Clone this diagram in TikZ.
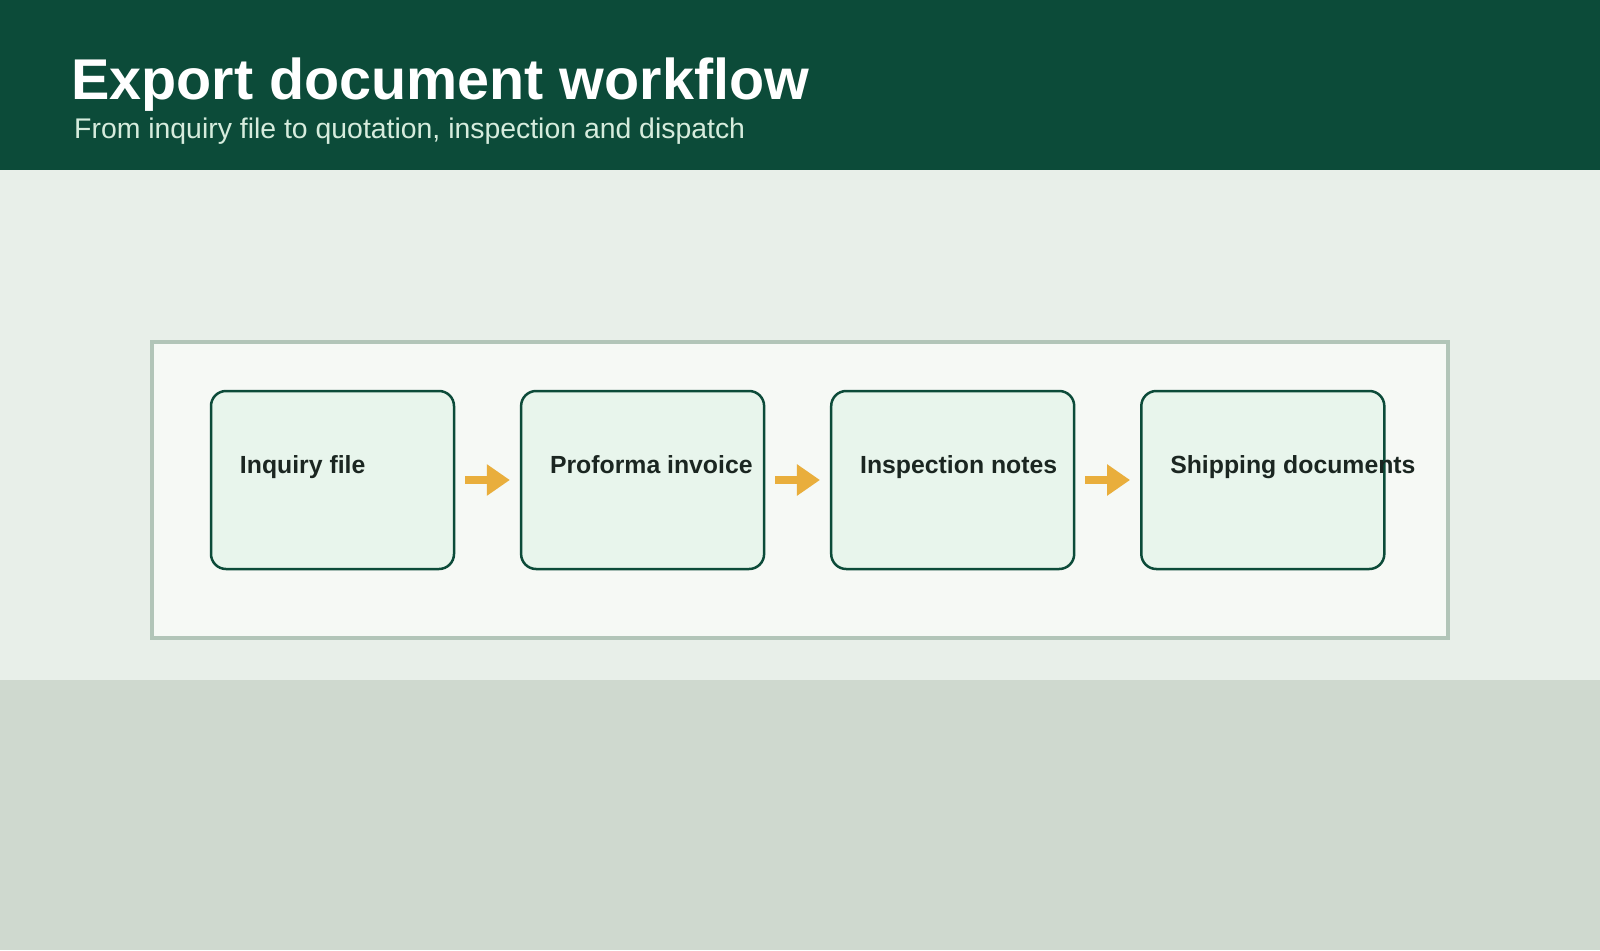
\documentclass[tikz,border=0pt]{standalone}
\usepackage{fontspec}
\setmainfont{Liberation Sans}
\usetikzlibrary{positioning,arrows.meta}
\definecolor{headgreen}{HTML}{0C4B39}
\definecolor{bandlight}{HTML}{E8EFE9}
\definecolor{bandlow}{HTML}{CFD9CF}
\definecolor{panelfill}{HTML}{F6F9F5}
\definecolor{panelline}{HTML}{B2C5B8}
\definecolor{boxfill}{HTML}{E8F5EC}
\definecolor{boxline}{HTML}{0C4B39}
\definecolor{labeltext}{HTML}{1B2621}
\definecolor{subtext}{HTML}{D6ECDD}
\definecolor{arrowgold}{HTML}{E9AE3C}
\tikzset{
  docbox/.style={draw=boxline,fill=boxfill,line width=2.5pt,rounded corners=15pt,
    minimum width=243pt,minimum height=178pt,inner sep=0pt},
  doclabel/.style={anchor=base west,inner sep=0pt,text=labeltext,
    font=\fontsize{24.8}{30}\selectfont\bfseries},
  flow/.style={draw=arrowgold,line width=8pt,-{Triangle[length=23pt,width=30pt]},
    shorten <=10pt,shorten >=10pt}
}
\begin{document}
\begin{tikzpicture}[x=1pt,y=-1pt]
  \useasboundingbox (0,0) rectangle (1600,950) ;
  % bands
  \fill[headgreen] (0,0) rectangle (1600,170) ;
  \fill[bandlight] (0,170) rectangle (1600,680) ;
  \fill[bandlow] (0,680) rectangle (1600,950) ;
  \node[anchor=base west,inner sep=0pt,text=white,font=\fontsize{57.5}{70}\selectfont\bfseries]
    (title) at (71,99) {Export document workflow} ;
  \node[anchor=base west,inner sep=0pt,text=subtext,font=\fontsize{28.4}{34}\selectfont]
    (subtitle) at (74,138) {From inquiry file to quotation, inspection and dispatch} ;
  % panel
  \draw[draw=panelline,fill=panelfill,line width=3.5pt] (152,342) rectangle (1448,638) ;
  % boxes
  \node[docbox] (inquiry) at (332.5,480) {} ;
  \node[docbox,right=64.6pt of inquiry] (proforma) {} ;
  \node[docbox,right=64.6pt of proforma] (inspection) {} ;
  \node[docbox,right=64.6pt of inspection] (shipping) {} ;
  \node[doclabel] (inquirytxt) at ([xshift=30pt,yshift=7pt]inquiry.west) {Inquiry file} ;
  \node[doclabel] (proformatxt) at ([xshift=30pt,yshift=7pt]proforma.west) {Proforma invoice} ;
  \node[doclabel] (inspectiontxt) at ([xshift=30pt,yshift=7pt]inspection.west) {Inspection notes} ;
  \node[doclabel] (shippingtxt) at ([xshift=30pt,yshift=7pt]shipping.west) {Shipping documents} ;
  % arrows
  \draw[flow] (inquiry) -- (proforma) ;
  \draw[flow] (proforma) -- (inspection) ;
  \draw[flow] (inspection) -- (shipping) ;
\end{tikzpicture}
\end{document}
